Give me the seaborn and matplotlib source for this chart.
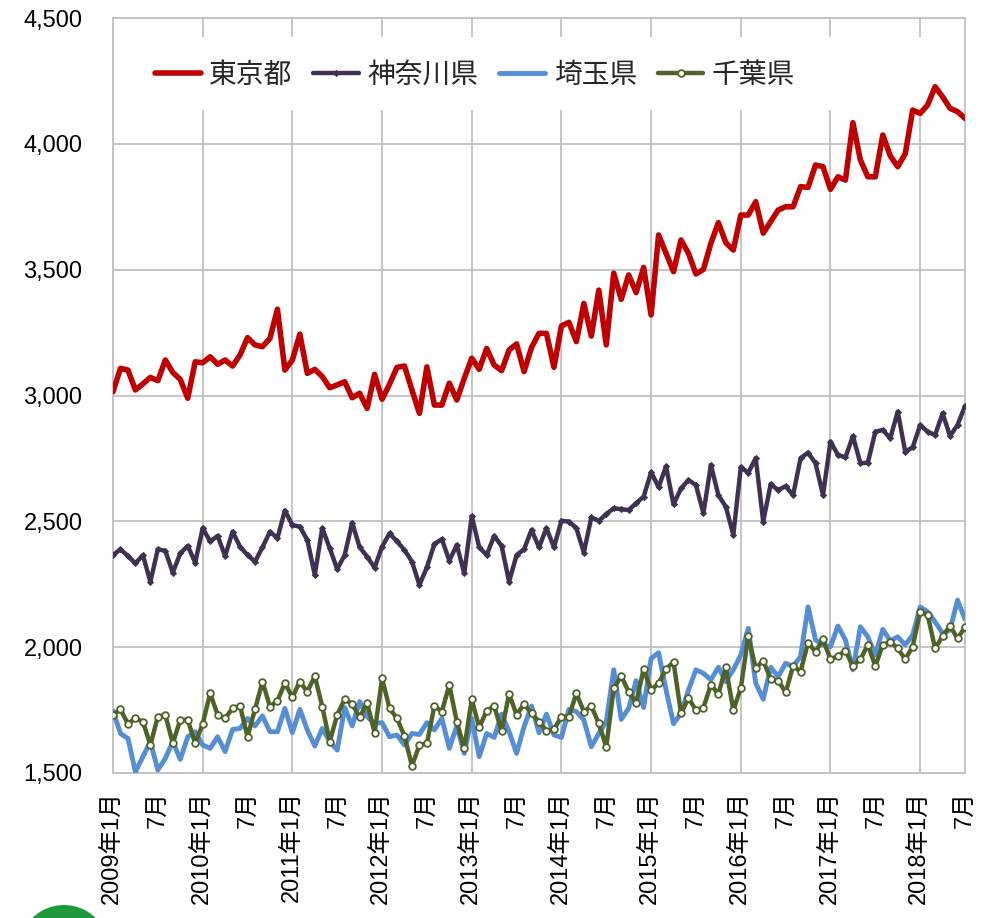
import matplotlib
matplotlib.use("Agg")
import matplotlib.pyplot as plt
from matplotlib.patches import Rectangle, Ellipse
import numpy as np
import pandas as pd
import seaborn as sns

# Monthly values, 2009-01 .. 2018-07
tokyo = [
    3015, 3108, 3101, 3022, 3046, 3072, 3059, 3141, 3092, 3064, 2989, 3134,
    3130, 3154, 3124, 3141, 3117, 3161, 3230, 3201, 3194, 3227, 3343, 3101,
    3141, 3244, 3088, 3104, 3075, 3031, 3042, 3055, 2991, 3009, 2949, 3084,
    2985, 3045, 3112, 3117, 3022, 2929, 3114, 2962, 2962, 3049, 2982, 3068,
    3148, 3104, 3187, 3121, 3099, 3181, 3205, 3095, 3191, 3247, 3247, 3112,
    3276, 3291, 3214, 3366, 3236, 3419, 3201, 3486, 3382, 3479, 3409, 3509,
    3320, 3638, 3565, 3492, 3618, 3565, 3483, 3501, 3605, 3687, 3607, 3578,
    3717, 3717, 3770, 3645, 3691, 3737, 3750, 3750, 3830, 3827, 3916, 3909,
    3819, 3869, 3856, 4084, 3936, 3869, 3869, 4035, 3952, 3909, 3960, 4134,
    4121, 4154, 4227, 4187, 4141, 4128, 4101,
]
kanagawa = [
    2366, 2389, 2362, 2333, 2366, 2260, 2389, 2383, 2296, 2373, 2402, 2336,
    2473, 2420, 2442, 2362, 2459, 2399, 2366, 2340, 2397, 2459, 2433, 2543,
    2485, 2479, 2426, 2287, 2473, 2393, 2310, 2366, 2495, 2397, 2360, 2316,
    2399, 2452, 2420, 2386, 2340, 2247, 2317, 2410, 2429, 2344, 2406, 2293,
    2521, 2397, 2366, 2442, 2402, 2260, 2366, 2389, 2466, 2397, 2473, 2397,
    2502, 2499, 2473, 2376, 2516, 2502, 2529, 2552, 2548, 2545, 2572, 2598,
    2695, 2636, 2718, 2567, 2631, 2664, 2644, 2532, 2724, 2604, 2558, 2446,
    2715, 2693, 2751, 2499, 2648, 2624, 2640, 2604, 2751, 2773, 2731, 2604,
    2817, 2764, 2754, 2839, 2731, 2733, 2856, 2863, 2830, 2936, 2777, 2794,
    2883, 2856, 2843, 2929, 2839, 2883, 2958,
]
saitama = [
    1747, 1657, 1637, 1505, 1565, 1625, 1512, 1558, 1625, 1554, 1644, 1664,
    1611, 1598, 1644, 1585, 1673, 1677, 1717, 1687, 1727, 1664, 1664, 1757,
    1660, 1753, 1671, 1607, 1677, 1625, 1591, 1760, 1687, 1784, 1724, 1697,
    1700, 1644, 1651, 1611, 1657, 1653, 1700, 1671, 1717, 1598, 1687, 1578,
    1717, 1565, 1657, 1641, 1734, 1664, 1578, 1684, 1766, 1660, 1734, 1651,
    1641, 1753, 1744, 1711, 1604, 1657, 1704, 1910, 1713, 1757, 1867, 1760,
    1955, 1978, 1830, 1696, 1737, 1830, 1910, 1896, 1870, 1920, 1863, 1910,
    1969, 2075, 1857, 1793, 1920, 1883, 1936, 1923, 1963, 2160, 2029, 2009,
    2002, 2084, 2029, 1910, 2081, 2041, 1969, 2071, 2025, 2041, 2009, 2048,
    2160, 2141, 2101, 2055, 2068, 2187, 2111,
]
chiba = [
    1731, 1753, 1695, 1717, 1704, 1611, 1724, 1731, 1618, 1711, 1711, 1618,
    1695, 1817, 1731, 1717, 1757, 1766, 1644, 1753, 1863, 1764, 1787, 1857,
    1801, 1863, 1823, 1885, 1764, 1625, 1731, 1793, 1774, 1721, 1779, 1660,
    1876, 1757, 1717, 1647, 1528, 1611, 1618, 1766, 1744, 1850, 1704, 1598,
    1793, 1681, 1747, 1766, 1668, 1814, 1731, 1774, 1737, 1704, 1668, 1673,
    1724, 1724, 1817, 1744, 1766, 1697, 1604, 1836, 1885, 1823, 1779, 1913,
    1829, 1857, 1913, 1941, 1737, 1797, 1750, 1760, 1850, 1814, 1920, 1750,
    1836, 2044, 1916, 1947, 1873, 1867, 1820, 1925, 1903, 2018, 1982, 2031,
    1952, 1965, 1986, 1925, 1952, 2009, 1925, 2009, 2022, 1995, 1952, 2002,
    2141, 2128, 1995, 2044, 2084, 2035, 2079,
]

prefectures = ["東京都", "神奈川県", "埼玉県", "千葉県"]
colors = ["#C00000", "#3F3151", "#558ED5", "#4F6228"]

tick_labels = []
for year in range(2009, 2019):
    tick_labels += [f"{year}年1月", "7月"]
y_ticks = [1500, 2000, 2500, 3000, 3500, 4000, 4500]

months = np.arange(len(tokyo))
df = pd.concat(
    [pd.DataFrame({"month": months, "value": vals, "pref": name})
     for name, vals in zip(prefectures, [tokyo, kanagawa, saitama, chiba])],
    ignore_index=True,
)

sns.set_theme(style="white")
plt.rcParams["font.family"] = ["Liberation Sans", "Noto Sans CJK JP"]

W, H = 985, 918
fig = plt.figure(figsize=(W / 100, H / 100), dpi=100)
ax = fig.add_axes([113 / W, 1 - 773 / H, 852 / W, 755 / H])

grid_c = "#C0C0C0"
styles = {
    "東京都": dict(lw=4.0),
    "神奈川県": dict(lw=3.2, marker="D", markersize=3.2,
                 markerfacecolor="#3F3151", markeredgecolor="#3F3151",
                 markeredgewidth=0.5),
    "埼玉県": dict(lw=3.5),
    "千葉県": dict(lw=3.2, marker="o", markersize=4.8,
                markerfacecolor="white", markeredgecolor="#4F6228",
                markeredgewidth=1.3),
}

handles = []
for z, (name, col) in enumerate(zip(prefectures, colors)):
    sub = df[df["pref"] == name]
    sns.lineplot(data=sub, x="month", y="value", ax=ax, color=col,
                 estimator=None, errorbar=None, label=name,
                 zorder=3 + z, solid_joinstyle="round", **styles[name])
    handles.append(ax.lines[-1])
    ax.lines[-1].set_solid_capstyle("round")

ax.set_xlim(0, len(tokyo) - 1)
ax.set_ylim(y_ticks[0], y_ticks[-1])
ax.set_xticks(np.arange(0, len(tokyo), 6))
ax.set_xticklabels(tick_labels, rotation=90, fontsize=17)
ax.set_yticks(y_ticks)
ax.set_yticklabels([f"{v:,}" for v in y_ticks], fontsize=17)
ax.tick_params(axis="both", length=0, colors="black")
ax.tick_params(axis="y", pad=22)
ax.tick_params(axis="x", pad=13)
ax.set_xlabel("")
ax.set_ylabel("")

# gridlines: one per year vertically, every 500 horizontally
for x in np.arange(0, len(tokyo), 12):
    ax.axvline(x, color=grid_c, lw=1.3, zorder=0.5)
for y in y_ticks:
    ax.axhline(y, color=grid_c, lw=1.3, zorder=0.5)
for s in ax.spines.values():
    s.set_color(grid_c)
    s.set_linewidth(1.3)

# white legend area over the gridlines
ax.add_patch(Rectangle((0.02, 0.878), 0.933, 0.097, transform=ax.transAxes,
                       facecolor="white", edgecolor="none", zorder=1))
leg = ax.legend(handles=handles, labels=prefectures, ncol=4, frameon=False,
                loc="center", bbox_to_anchor=(0.425, 0.9245),
                prop={"family": ["Noto Sans CJK JP"], "size": 20},
                handlelength=1.65, handletextpad=0.3, columnspacing=0.75,
                numpoints=1)
leg.set_zorder(10)

# logo mark at the lower left
fig.add_artist(Ellipse((64 / W, 1 - 950 / H), 90 / W, 90 / H,
                       transform=fig.transFigure, facecolor="#1E9A3C",
                       edgecolor="none"))

fig.savefig("out.png", dpi=100, facecolor="white")
